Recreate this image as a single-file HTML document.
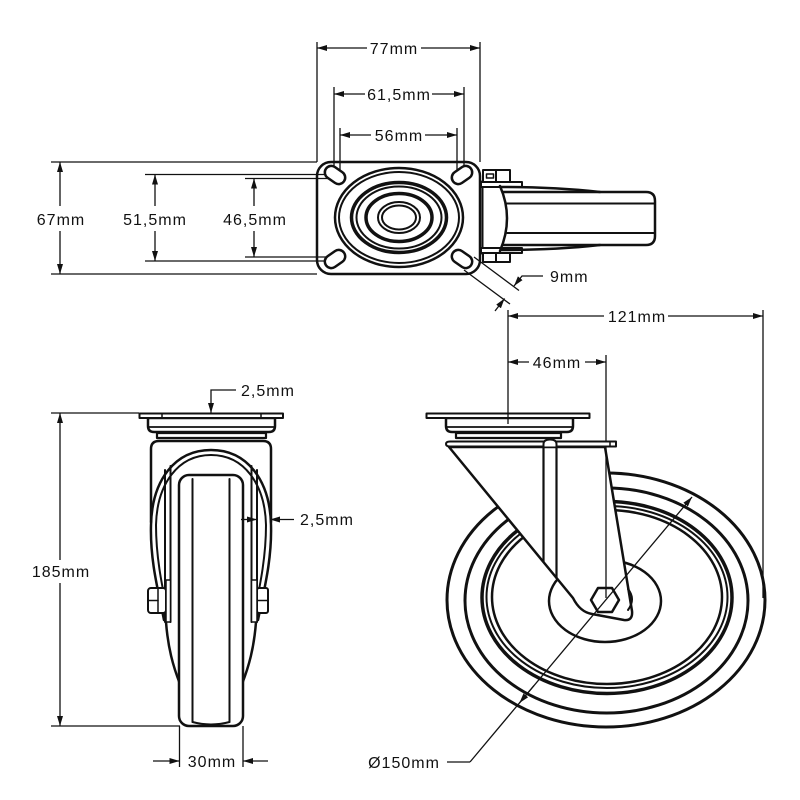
<!DOCTYPE html>
<html><head><meta charset="utf-8">
<style>
html,body{margin:0;padding:0;background:#fff;}
svg{display:block;}
text{font-family:"Liberation Sans",sans-serif;font-size:16px;letter-spacing:1px;fill:#111;}
.o{fill:none;stroke:#111;stroke-width:2.5;stroke-linejoin:round;stroke-linecap:round;}
.w{fill:#fff;stroke:#111;stroke-width:2.5;stroke-linejoin:round;}
.d{fill:none;stroke:#111;stroke-width:1.3;}
</style></head><body>
<svg width="800" height="800" viewBox="0 0 800 800" xmlns="http://www.w3.org/2000/svg">
<defs>
<marker id="a" viewBox="0 0 10 6" refX="10" refY="3" markerWidth="10" markerHeight="6" markerUnits="userSpaceOnUse" orient="auto"><path d="M0,0 L10,3 L0,6 Z" fill="#111"/></marker>
</defs>

<!-- ============ TOP VIEW ============ -->
<!-- dims top -->
<line class="d" x1="317" y1="42" x2="317" y2="162"/>
<line class="d" x1="480" y1="42" x2="480" y2="162"/>
<line class="d" x1="367" y1="48" x2="317" y2="48" marker-end="url(#a)"/>
<line class="d" x1="421" y1="48" x2="480" y2="48" marker-end="url(#a)"/>
<text x="394" y="54" text-anchor="middle">77mm</text>

<line class="d" x1="334" y1="87" x2="334" y2="172"/>
<line class="d" x1="464" y1="87" x2="464" y2="172"/>
<line class="d" x1="365" y1="94" x2="334" y2="94" marker-end="url(#a)"/>
<line class="d" x1="432" y1="94" x2="464" y2="94" marker-end="url(#a)"/>
<text x="399" y="100" text-anchor="middle">61,5mm</text>

<line class="d" x1="340" y1="128" x2="340" y2="172"/>
<line class="d" x1="457" y1="128" x2="457" y2="172"/>
<line class="d" x1="371" y1="135" x2="340" y2="135" marker-end="url(#a)"/>
<line class="d" x1="425" y1="135" x2="457" y2="135" marker-end="url(#a)"/>
<text x="399" y="141" text-anchor="middle">56mm</text>

<!-- dims left -->
<line class="d" x1="51" y1="162" x2="317" y2="162"/>
<line class="d" x1="51" y1="274" x2="317" y2="274"/>
<line class="d" x1="60" y1="206" x2="60" y2="162" marker-end="url(#a)"/>
<line class="d" x1="60" y1="231" x2="60" y2="274" marker-end="url(#a)"/>
<text x="61" y="225" text-anchor="middle">67mm</text>

<line class="d" x1="145" y1="174.5" x2="332" y2="174.5"/>
<line class="d" x1="145" y1="261" x2="332" y2="261"/>
<line class="d" x1="155" y1="206" x2="155" y2="174.5" marker-end="url(#a)"/>
<line class="d" x1="155" y1="231" x2="155" y2="261" marker-end="url(#a)"/>
<text x="155" y="225" text-anchor="middle">51,5mm</text>

<line class="d" x1="245" y1="178.5" x2="332" y2="178.5"/>
<line class="d" x1="245" y1="257" x2="332" y2="257"/>
<line class="d" x1="254" y1="206" x2="254" y2="178.5" marker-end="url(#a)"/>
<line class="d" x1="254" y1="231" x2="254" y2="257" marker-end="url(#a)"/>
<text x="255" y="225" text-anchor="middle">46,5mm</text>

<!-- plate -->
<rect class="o" x="317" y="162" width="163" height="112" rx="14"/>
<rect class="w" x="-11" y="-6.5" width="22" height="13" rx="6.5" transform="translate(335,175) rotate(35)"/>
<rect class="w" x="-11" y="-6.5" width="22" height="13" rx="6.5" transform="translate(462,175) rotate(-35)"/>
<rect class="w" x="-11" y="-6.5" width="22" height="13" rx="6.5" transform="translate(335,259) rotate(-35)"/>
<rect class="w" x="-11" y="-6.5" width="22" height="13" rx="6.5" transform="translate(462,259) rotate(35)"/>
<ellipse class="o" cx="399" cy="217.5" rx="64" ry="49.5"/>
<ellipse class="o" cx="399" cy="217.5" rx="60" ry="45.5" style="stroke-width:2"/>
<ellipse class="o" cx="399" cy="217.5" rx="47.5" ry="35" style="stroke-width:3.5"/>
<ellipse class="o" cx="399" cy="217.5" rx="42.5" ry="31" style="stroke-width:2"/>
<ellipse class="o" cx="399" cy="217.5" rx="33" ry="24" style="stroke-width:3.5"/>
<ellipse class="o" cx="399" cy="217.5" rx="21" ry="15.5" style="stroke-width:2"/>
<ellipse class="o" cx="399" cy="217.5" rx="17" ry="12" style="stroke-width:2"/>

<!-- fork / handle from top -->
<line class="o" x1="482.5" y1="181" x2="482.5" y2="254" style="stroke-width:2"/>
<rect class="w" x="481" y="182" width="41" height="5" style="stroke-width:2"/>
<rect class="w" x="481" y="248" width="41" height="5" style="stroke-width:2"/>
<rect class="w" x="483" y="170" width="13" height="12" style="stroke-width:2"/>
<rect class="w" x="496" y="170" width="14" height="12" style="stroke-width:2"/>
<rect class="o" x="486.5" y="174" width="7" height="4" style="stroke-width:1.5"/>
<rect class="w" x="483" y="253" width="13" height="9" style="stroke-width:2"/>
<rect class="w" x="496" y="253" width="14" height="9" style="stroke-width:2"/>
<path class="o" d="M501,187 Q555,187 600,192"/>
<path class="o" d="M501,250 Q555,250 600,245"/>
<path class="o" d="M503,192 L646,192 Q655,192 655,201 L655,236 Q655,245 646,245 L503,245"/>
<path class="o" d="M500,186 Q514,218 500,251"/>
<line class="o" x1="507" y1="203.5" x2="654" y2="203.5" style="stroke-width:2"/>
<line class="o" x1="507" y1="233" x2="654" y2="233" style="stroke-width:2"/>

<!-- 9mm -->
<line class="d" x1="474" y1="257" x2="519" y2="290.5"/>
<line class="d" x1="464" y1="270" x2="510" y2="304"/>
<path class="d" d="M543,276 L522,276 L514,286" marker-end="url(#a)"/>
<line class="d" x1="495" y1="311" x2="504.6" y2="298.5" marker-end="url(#a)"/>
<text x="550" y="282">9mm</text>

<!-- ============ FRONT VIEW ============ -->
<line class="d" x1="51" y1="413" x2="139" y2="413"/>
<line class="d" x1="51" y1="726" x2="180" y2="726"/>
<line class="d" x1="60" y1="560" x2="60" y2="413" marker-end="url(#a)"/>
<line class="d" x1="60" y1="583" x2="60" y2="726" marker-end="url(#a)"/>
<text x="61" y="577" text-anchor="middle">185mm</text>

<path class="d" d="M236,390 L211,390 L211,413" marker-end="url(#a)"/>
<line class="d" x1="211" y1="437" x2="211" y2="419" marker-end="url(#a)"/>
<text x="241" y="396">2,5mm</text>

<!-- fork body -->
<path class="o" d="M151,522 L151,449 Q151,441 159,441 L263,441 Q271,441 271,449 L271,522"/>
<path class="o" d="M164,620 C158,590 150,560 151,525 C152,480 175,450 211,450 C247,450 270,480 271,525 C272,560 264,590 258,620"/>
<path class="o" d="M169,620 C163,590 156,560 156,525 C157,484 178,455 211,455 C244,455 265,484 266,525 C266,560 259,590 253,620" style="stroke-width:2"/>
<line class="o" x1="165" y1="470" x2="165" y2="622" style="stroke-width:2"/>
<line class="o" x1="170.5" y1="466" x2="170.5" y2="622" style="stroke-width:2"/>
<line class="o" x1="251.5" y1="466" x2="251.5" y2="622" style="stroke-width:2"/>
<line class="o" x1="257" y1="470" x2="257" y2="622" style="stroke-width:2"/>
<path class="o" d="M166,622 C168,648 173,666 180,684"/>
<path class="o" d="M256,622 C254,648 249,666 242,684"/>

<!-- wheel -->
<rect class="w" x="179" y="475" width="64" height="251" rx="10"/>
<line class="o" x1="192.5" y1="479" x2="192.5" y2="722" style="stroke-width:2"/>
<line class="o" x1="229.5" y1="479" x2="229.5" y2="722" style="stroke-width:2"/>
<path class="o" d="M192.5,722 Q211,727 229.5,722" style="stroke-width:2"/>

<!-- bolts -->
<rect class="w" x="148" y="588" width="18" height="25" rx="3" style="stroke-width:2"/>
<line class="o" x1="158" y1="588" x2="158" y2="613" style="stroke-width:1.5"/>
<line class="o" x1="148" y1="600.5" x2="158" y2="600.5" style="stroke-width:1.5"/>
<rect class="w" x="166" y="580" width="4.5" height="42" style="stroke-width:1.5"/>
<rect class="w" x="257" y="588" width="11" height="25" rx="2" style="stroke-width:2"/>
<line class="o" x1="257" y1="600.5" x2="268" y2="600.5" style="stroke-width:1.5"/>
<rect class="w" x="251.5" y="580" width="5.5" height="42" style="stroke-width:1.5"/>

<!-- housing / plate front -->
<path class="w" d="M148,418 L148,426 Q148,432 154,432 L269,432 Q275,432 275,426 L275,418 Z"/>
<line class="o" x1="148" y1="427" x2="275" y2="427" style="stroke-width:1.8"/>
<rect class="w" x="157" y="433" width="109" height="5" style="stroke-width:2.2"/>
<rect class="w" x="139.5" y="413.5" width="143.5" height="4.5" style="stroke-width:2"/>
<line class="o" x1="162" y1="413.5" x2="162" y2="418" style="stroke-width:1.5"/>
<line class="o" x1="261" y1="413.5" x2="261" y2="418" style="stroke-width:1.5"/>

<!-- side 2,5mm -->
<line class="d" x1="241" y1="519.5" x2="257" y2="519.5" marker-end="url(#a)"/>
<line class="d" x1="294" y1="519.5" x2="270" y2="519.5" marker-end="url(#a)"/>
<text x="300" y="525">2,5mm</text>

<!-- 30mm -->
<line class="d" x1="179.5" y1="726" x2="179.5" y2="767"/>
<line class="d" x1="243" y1="726" x2="243" y2="767"/>
<line class="d" x1="153" y1="761" x2="179.5" y2="761" marker-end="url(#a)"/>
<line class="d" x1="268" y1="761" x2="243" y2="761" marker-end="url(#a)"/>
<text x="212" y="767" text-anchor="middle">30mm</text>

<!-- ============ SIDE VIEW ============ -->
<line class="d" x1="508" y1="310" x2="508" y2="423"/>
<line class="d" x1="763" y1="310" x2="763" y2="598"/>
<line class="d" x1="604" y1="316" x2="508" y2="316" marker-end="url(#a)"/>
<line class="d" x1="668" y1="316" x2="763" y2="316" marker-end="url(#a)"/>
<text x="637" y="322" text-anchor="middle">121mm</text>

<line class="d" x1="529" y1="362" x2="508" y2="362" marker-end="url(#a)"/>
<line class="d" x1="585" y1="362" x2="606" y2="362" marker-end="url(#a)"/>
<text x="557" y="368" text-anchor="middle">46mm</text>

<!-- wheel rings -->
<ellipse class="o" cx="606" cy="600" rx="159" ry="127" style="stroke-width:3"/>
<ellipse class="o" cx="606.5" cy="600.5" rx="141.5" ry="112.5" style="stroke-width:3"/>
<ellipse class="o" cx="607" cy="597.5" rx="125" ry="96" style="stroke-width:3.5"/>
<ellipse class="o" cx="607" cy="597" rx="120.5" ry="91" style="stroke-width:2"/>
<ellipse class="o" cx="607" cy="597" rx="115" ry="87" style="stroke-width:2.5"/>
<ellipse class="o" cx="605" cy="601" rx="56" ry="41"/>

<!-- fork side plate -->
<path class="w" d="M449,447 L573,598 Q580,612 592,614 L624,620 Q633,621 632,611 L605,447 Z"/>
<line class="o" x1="543.5" y1="446.5" x2="543.5" y2="562" style="stroke-width:2.2"/>
<line class="o" x1="556.5" y1="446.5" x2="556.5" y2="578" style="stroke-width:2.2"/>
<path class="o" d="M628,589 Q636,599 628,610" style="stroke-width:2"/>
<polygon class="w" points="591,600 598,588 612,588 619,600 612,612 598,612"/>

<!-- dim 46 ext through fork -->
<line class="d" x1="606" y1="355" x2="606" y2="598"/>

<!-- top bar, kingpin, housing, plate -->
<path class="w" d="M450,441.5 L616,441.5 L616,446.5 L450,446.5 Q446,446.5 446,444 Q446,441.5 450,441.5 Z" style="stroke-width:2"/>
<line class="o" x1="610" y1="441.5" x2="610" y2="446.5" style="stroke-width:1.5"/>
<path class="w" d="M543.5,446.5 L543.5,444 Q543.5,439.5 550,439.5 Q556.5,439.5 556.5,444 L556.5,446.5" style="stroke-width:2"/>
<path class="w" d="M446,418 L446,426 Q446,432 452,432 L567,432 Q573,432 573,426 L573,418 Z"/>
<line class="o" x1="446" y1="427" x2="573" y2="427" style="stroke-width:1.8"/>
<rect class="w" x="456" y="433" width="105" height="5" style="stroke-width:2.2"/>
<rect class="w" x="426.5" y="413.5" width="163" height="4.5" style="stroke-width:2"/>
<line class="d" x1="508" y1="413" x2="508" y2="424"/>

<!-- diameter -->
<line class="d" x1="447" y1="762" x2="470" y2="762"/>
<line class="d" x1="470" y1="762" x2="692" y2="497" marker-end="url(#a)"/>
<line class="d" x1="534" y1="685.5" x2="519.4" y2="703" marker-end="url(#a)"/>
<text x="404" y="768" text-anchor="middle">Ø150mm</text>
</svg>
</body></html>
